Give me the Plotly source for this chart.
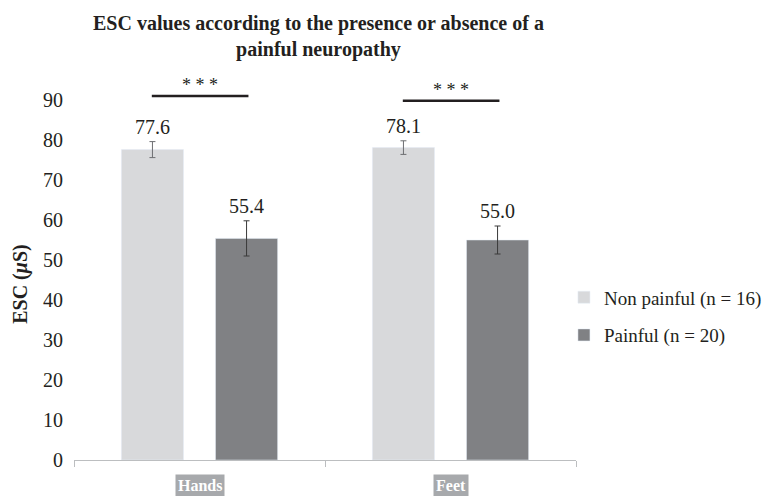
import plotly.graph_objects as go

categories = ["Hands", "Feet"]
non_painful = [77.6, 78.1]
painful = [55.4, 55.0]
non_painful_err = [2.0, 1.7]
painful_err = [4.4, 3.5]
series_names = ["Non painful (n = 16)", "Painful (n = 20)"]
y_ticks = [0, 10, 20, 30, 40, 50, 60, 70, 80, 90]
sig_labels = ["* * *", "* * *"]
sig_heights = [91.0, 89.8]

FONT = "Liberation Serif"
TXT = "#231f20"
C_NP = "#d8d9db"
C_P = "#808184"

fig = go.Figure()
fig.add_trace(go.Bar(
    x=categories, y=non_painful, name=series_names[0], marker_color=C_NP,
    legendgroup="a",
    error_y=dict(type="data", array=non_painful_err, color="#6d6e71", thickness=1, width=3),
))
fig.add_trace(go.Bar(
    x=categories, y=painful, name=series_names[1], marker_color=C_P,
    legendgroup="b",
    error_y=dict(type="data", array=painful_err, color="#3a3a3a", thickness=1, width=3),
))

# value labels above error bars
for vals, errs, shift in [(non_painful, non_painful_err, -47), (painful, painful_err, 47)]:
    for c, v, e in zip(categories, vals, errs):
        fig.add_annotation(x=c, y=v + e, xref="x", yref="y", text=f"{v:.1f}",
                           showarrow=False, xshift=shift, yshift=15, yanchor="middle",
                           font=dict(family=FONT, size=20, color=TXT))

# significance bars
for i, (c, h, s) in enumerate(zip(categories, sig_heights, sig_labels)):
    fig.add_shape(type="line", xref="x", yref="y", x0=i - 0.19, x1=i + 0.195, y0=h, y1=h,
                  line=dict(color="#231f20", width=2.5))
    fig.add_annotation(x=c, y=h, xref="x", yref="y", text=s, showarrow=False,
                       yanchor="bottom", yshift=-1,
                       font=dict(family=FONT, size=18, color=TXT))

# category labels in gray boxes
for c in categories:
    fig.add_annotation(x=c, y=-0.066, xref="x", yref="paper", text=f"<b>{c}</b>",
                       showarrow=False, yanchor="middle", bgcolor="#a7a9ac",
                       borderpad=2, font=dict(family=FONT, size=16, color="white"))

# y axis title
fig.add_annotation(x=-0.108, y=44, xref="paper", yref="y", text="<b>ESC (<i>μ</i>S)</b>",
                   textangle=-90, showarrow=False, xanchor="center", yanchor="middle",
                   font=dict(family=FONT, size=20, color=TXT))

# chart title
fig.add_annotation(x=0.4876, y=1.184, xref="paper", yref="paper",
                   text="<b>ESC values according to the presence or absence of a<br>painful neuropathy</b>",
                   showarrow=False, xanchor="center", yanchor="top", align="center",
                   font=dict(family=FONT, size=20, color=TXT))

fig.update_layout(
    width=782, height=496,
    margin=dict(l=74, r=205.5, t=80, b=36),
    paper_bgcolor="white", plot_bgcolor="white",
    barmode="group", bargap=0.25, bargroupgap=0.34,
    font=dict(family=FONT, color=TXT),
    legend=dict(x=0.976, xanchor="left", y=0.378, yanchor="middle",
                font=dict(family=FONT, size=19, color=TXT),
                traceorder="grouped", tracegroupgap=10, bgcolor="rgba(0,0,0,0)"),
    showlegend=True,
)
fig.update_xaxes(type="category", range=[-0.5, 1.5], showline=True, linecolor="#bcbec0", linewidth=1,
                 ticks="outside", tickson="boundaries", ticklen=6, tickcolor="#bcbec0",
                 showticklabels=False, showgrid=False, zeroline=False)
fig.update_yaxes(range=[0, 95], tickvals=y_ticks, showgrid=False, zeroline=False, showline=False,
                 ticks="", tickfont=dict(family=FONT, size=20, color=TXT), ticklabelstandoff=10)

fig.write_html("out.html", config={"displayModeBar": False},
               post_script="document.body.style.margin='0';")
